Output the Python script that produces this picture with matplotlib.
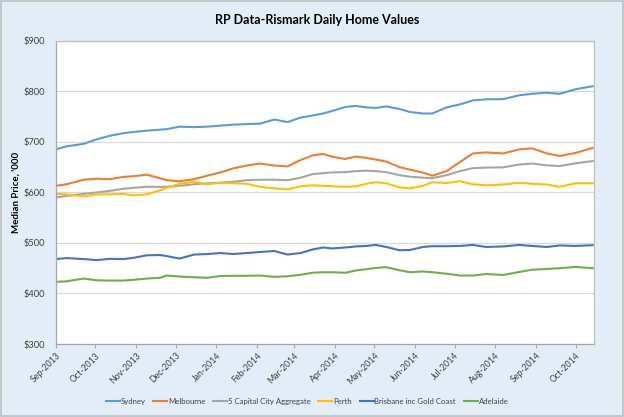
import matplotlib
matplotlib.use("Agg")
import matplotlib.pyplot as plt
import matplotlib.dates as mdates
import pandas as pd
from matplotlib.patches import Rectangle
from matplotlib.ticker import FuncFormatter

dates = pd.to_datetime([
    "2013-09-01", "2013-09-09", "2013-09-22", "2013-10-02", "2013-10-12",
    "2013-10-22", "2013-10-30", "2013-11-09", "2013-11-19", "2013-11-24",
    "2013-12-04", "2013-12-15", "2013-12-25", "2014-01-04", "2014-01-14",
    "2014-01-24", "2014-02-03", "2014-02-14", "2014-02-24", "2014-03-06",
    "2014-03-15", "2014-03-23", "2014-03-30", "2014-04-09", "2014-04-17",
    "2014-04-25", "2014-05-02", "2014-05-10", "2014-05-20", "2014-05-28",
    "2014-06-07", "2014-06-14", "2014-06-25", "2014-07-05", "2014-07-15",
    "2014-07-25", "2014-08-07", "2014-08-19", "2014-08-29", "2014-09-09",
    "2014-09-19", "2014-10-01", "2014-10-14",
])

sydney = [685, 691, 696, 705, 712, 717, 719.5, 722, 724, 725,
          730, 729, 730, 732, 734, 735, 736, 744, 739, 748,
          752, 756, 761, 769, 771, 768, 767, 770, 765, 759,
          756, 756, 768, 774, 782, 784, 784.5, 792, 795, 797,
          795, 804, 810]
melbourne = [613, 616, 625, 627, 626, 630.5, 632, 635, 628, 624,
             622, 626, 633, 639.5, 647.5, 653, 657, 653, 651.5, 664,
             673, 676, 670.5, 666, 671, 668, 665, 661, 650, 645,
             639, 633, 642, 660, 677, 679, 677, 685, 687, 677,
             672, 678, 688]
aggregate = [590, 593, 597, 600, 603, 607, 609, 611, 611, 611,
             613, 616, 618, 619, 621, 624, 625, 625, 624, 629,
             636, 638, 639.5, 640, 642, 643, 642, 640, 634, 631,
             629, 628, 634, 642, 648, 649, 649.5, 655, 657, 653.5,
             652, 657.5, 662]
perth = [597, 596, 592, 596, 596, 597, 594, 596, 604, 608.5,
         617, 621, 616, 619, 618, 617, 611, 608, 606, 612,
         614, 613, 612, 611, 612, 617, 620, 618, 610, 608,
         613, 620, 618.5, 622, 616, 614, 615.5, 619, 617, 615.5,
         611, 618, 618]
brisbane = [468, 470, 468, 466, 468.5, 468, 470.5, 475.5, 476, 474,
            469, 477, 478, 480, 478, 480, 482, 484, 477, 480,
            487, 491, 489, 491, 493, 494, 496, 492, 485.5, 486,
            492, 493.5, 493.5, 494, 496, 492, 493, 496, 494, 492,
            495, 494, 495.5]
adelaide = [423, 424, 429.5, 426, 425.5, 425.5, 427, 429.5, 431, 435.5,
            433.5, 432, 431, 434.5, 435, 435, 435.5, 433, 434, 437,
            441, 442, 442, 441, 445.5, 448, 450.5, 452, 446, 442,
            443.5, 442, 439, 435.5, 435.5, 438.5, 436.5, 442.5, 447, 448.5,
            450, 452.5, 450]

series = [
    ("Sydney", sydney, "#5B9BD5"),
    ("Melbourne", melbourne, "#ED7D31"),
    ("5 Capital City Aggregate", aggregate, "#A5A5A5"),
    ("Perth", perth, "#FFC000"),
    ("Brisbane inc Gold Coast", brisbane, "#4472C4"),
    ("Adelaide", adelaide, "#70AD47"),
]

plt.rcParams['font.family'] = ['Lato', 'DejaVu Sans']
bg = "#E3EDF7"
txt = "#404040"

fig = plt.figure(figsize=(6.24, 4.17), dpi=100, facecolor=bg)
ax = fig.add_axes([0.0897, 0.175, 0.8623, 0.7274])
ax.set_facecolor("white")

for nom, vals, col in series:
    ax.plot(dates, vals, color=col, linewidth=1.5, label=nom)

ax.set_ylim(300, 900)
ax.set_yticks(range(300, 901, 100))
ax.yaxis.set_major_formatter(FuncFormatter(lambda v, p: f"${v:.0f}"))
ax.set_xlim(pd.Timestamp("2013-09-01"), pd.Timestamp("2014-10-15"))
ax.xaxis.set_major_locator(mdates.MonthLocator())
ax.xaxis.set_major_formatter(mdates.DateFormatter("%b-%Y"))
plt.setp(ax.get_xticklabels(), rotation=45, ha="right", rotation_mode="anchor")

ax.grid(True, axis="y", color="#D9D9D9", linewidth=0.9)
ax.set_axisbelow(True)
for s in ax.spines.values():
    s.set_color("#BFBFBF")
    s.set_linewidth(0.9)
ax.spines["left"].set_color("#A6A6A6")
ax.spines["bottom"].set_color("#A6A6A6")
ax.tick_params(axis="x", length=3, color="#A6A6A6", labelsize=6.3, labelcolor=txt, pad=2)
ax.tick_params(axis="y", length=0, labelsize=6.7, labelcolor=txt, pad=8)

ax.set_ylabel("Median Price, '000", fontsize=7, fontweight="bold", color="black", labelpad=2)
fig.text(0.509, 0.951, "RP Data-Rismark Daily Home Values", ha="center", va="center",
         fontsize=9, fontweight="bold", color="black")

fig.legend(loc="center", bbox_to_anchor=(0.492, 0.038), ncol=6, frameon=False,
           fontsize=5.6, handlelength=1.8, handletextpad=0.1, columnspacing=1.0,
           labelcolor=txt)

fig.patches.append(Rectangle((0.001, 0.002), 0.997, 0.996, transform=fig.transFigure,
                             fill=False, edgecolor="#BFBFBF", linewidth=1.2))

plt.savefig("out.png", dpi=100, facecolor=bg)
